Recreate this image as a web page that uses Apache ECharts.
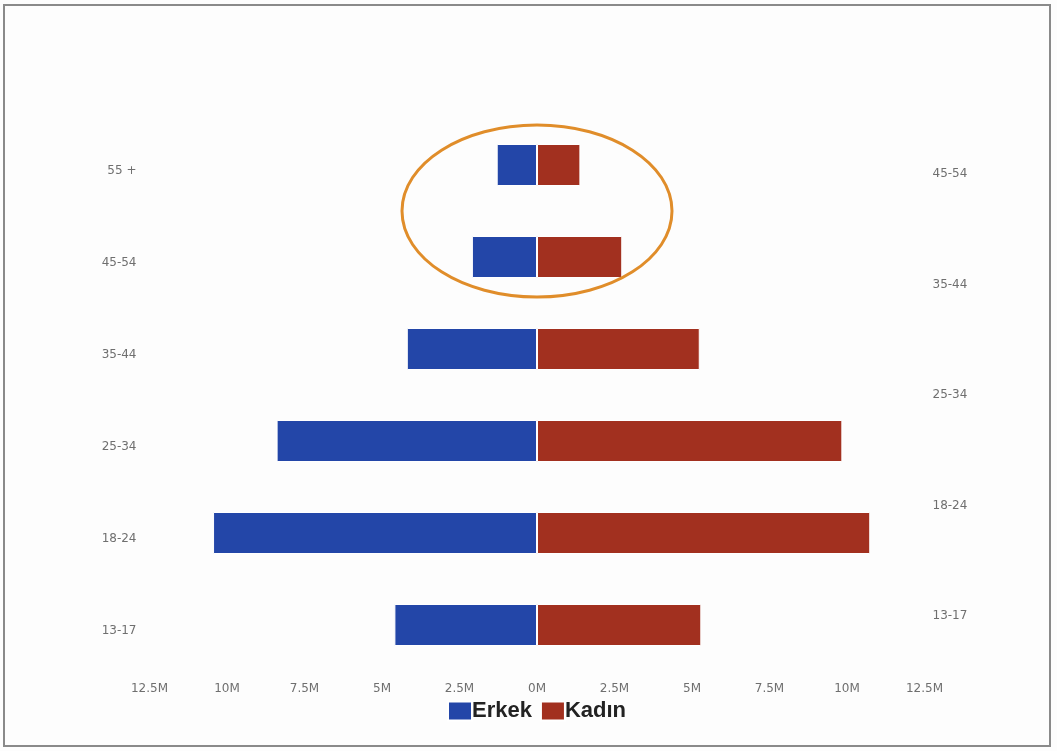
<!DOCTYPE html>
<html lang="tr">
<head>
<meta charset="UTF-8">
<title>Yaş piramidi</title>
<style>
    body { margin: 0; background: #fff; }
    #main { width: 1057px; height: 751px; background: #fdfdfd; }
    #frame {
        position: absolute;
        left: 3px; top: 4px;
        width: 1044px; height: 739px;
        border: 2px solid #8a8a8a;
        pointer-events: none;
    }
</style>
</head>
<body>
<div id="main"></div>
<div id="frame"></div>
<script src="https://cdn.jsdelivr.net/npm/echarts@6/dist/echarts.min.js"></script>
<script>
    // yaş grupları (alttan yukarı), değerler milyon
    var ageGroups = ['13-17', '18-24', '25-34', '35-44', '45-54', '55 +'];
    var rightGroups = ['13-17', '18-24', '25-34', '35-44', '45-54'];
    var erkek = [4.6, 10.45, 8.4, 4.2, 2.1, 1.3];
    var kadin = [5.3, 10.75, 9.85, 5.25, 2.75, 1.4];
    var xTicks = [-12.5, 12.5, 2.5]; // min, max, aralık

    var chart = echarts.init(document.getElementById('main'));

    var labelStyle = {
        color: '#6f6f6f',
        fontSize: 12,
        fontFamily: 'DejaVu Sans'
    };

    var option = {
        animation: false,
        grid: { left: 149.5, right: 132.5, top: 119, bottom: 80 },
        legend: {
            left: 442,
            top: 695,
            icon: 'rect',
            itemWidth: 24,
            itemHeight: 19,
            itemGap: 8,
            textStyle: { fontSize: 22, fontWeight: 'bold', color: '#222', fontFamily: 'Liberation Sans', padding: [2, 0, 0, -5] },
            data: ['Erkek', 'Kadın']
        },
        xAxis: {
            type: 'value',
            min: xTicks[0],
            max: xTicks[1],
            interval: xTicks[2],
            axisLine: { show: false },
            axisTick: { show: false },
            splitLine: { show: false },
            axisLabel: Object.assign({}, labelStyle, {
                margin: 12,
                formatter: function (v) { return Math.abs(v) + 'M'; }
            })
        },
        yAxis: [
            {
                type: 'category',
                data: ageGroups,
                axisLine: { show: false },
                axisTick: { show: false },
                axisLabel: Object.assign({}, labelStyle, { margin: 13, verticalAlign: 'top' })
            },
            {
                type: 'category',
                position: 'right',
                data: rightGroups,
                axisLine: { show: false },
                axisTick: { show: false },
                axisLabel: Object.assign({}, labelStyle, { margin: 8 })
            }
        ],
        series: [
            {
                name: 'Erkek',
                type: 'bar',
                stack: 'nufus',
                barWidth: 42,
                itemStyle: { color: '#2346a8', borderColor: '#fff', borderWidth: 1 },
                data: erkek.map(function (v) { return -v; })
            },
            {
                name: 'Kadın',
                type: 'bar',
                stack: 'nufus',
                barWidth: 42,
                itemStyle: { color: '#a2301f', borderColor: '#fff', borderWidth: 1 },
                data: kadin
            }
        ]
    };

    chart.setOption(option);

    // üst iki grubu çevreleyen turuncu elips
    var pTop = chart.convertToPixel({ xAxisIndex: 0, yAxisIndex: 0 }, [0, ageGroups[5]]);
    var pMid = chart.convertToPixel({ xAxisIndex: 0, yAxisIndex: 0 }, [0, ageGroups[4]]);
    chart.setOption({
        graphic: [{
            type: 'ellipse',
            shape: { cx: pTop[0], cy: (pTop[1] + pMid[1]) / 2, rx: 135, ry: 86 },
            style: { fill: 'none', stroke: '#e08d2a', lineWidth: 3 },
            z: 10
        }]
    });
</script>
</body>
</html>
